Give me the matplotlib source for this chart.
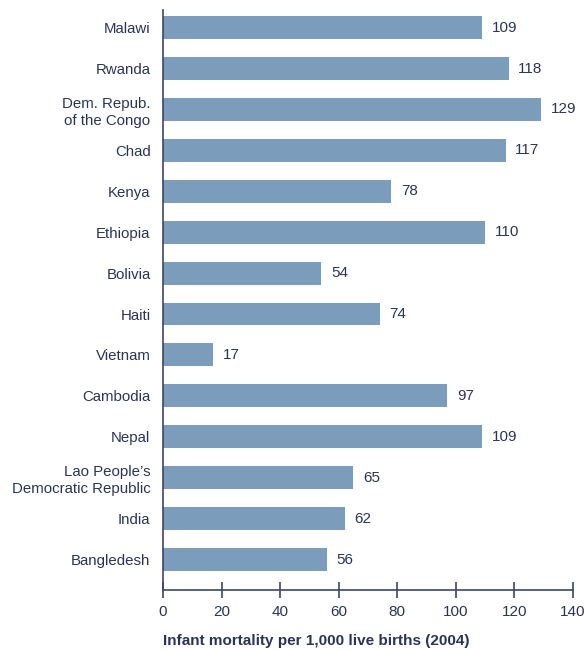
import matplotlib.pyplot as plt
import numpy as np

plt.rcParams['font.family'] = ['Liberation Sans', 'DejaVu Sans']

countries = ['Malawi', 'Rwanda', 'Dem. Repub.\nof the Congo', 'Chad', 'Kenya',
             'Ethiopia', 'Bolivia', 'Haiti', 'Vietnam', 'Cambodia', 'Nepal',
             "Lao People\u2019s\nDemocratic Republic", 'India', 'Bangledesh']
mortality = [109, 118, 129, 117, 78, 110, 54, 74, 17, 97, 109, 65, 62, 56]
xticks = [0, 20, 40, 60, 80, 100, 120, 140]

bar_color = '#7b9cbb'
text_color = '#2b3457'
axis_color = '#3b4768'

fig = plt.figure(figsize=(5.87, 6.5), dpi=100)
ax = fig.add_axes([163 / 587, 60 / 650, 410 / 587, 580 / 650])

y = np.arange(len(countries))
ax.barh(y, mortality, height=0.56, color=bar_color)

# value labels just past the bar ends
for yi, v in zip(y, mortality):
    ax.annotate(str(v), (v, yi), xytext=(7, 0), textcoords='offset points',
                va='center', ha='left', fontsize=11, color=text_color)

ax.set_ylim(13.745, -0.43)
ax.set_xlim(0, 140)
ax.set_yticks(y)
ax.set_yticklabels(countries, fontsize=10.8, color=text_color, linespacing=1.25)
ax.set_xticks(xticks)
ax.set_xticklabels([str(t) for t in xticks], fontsize=11, color=text_color)

ax.tick_params(axis='y', length=0, pad=9)
ax.tick_params(axis='x', direction='inout', length=11, width=1.2,
               color=axis_color, pad=5)

for s in ['top', 'right']:
    ax.spines[s].set_visible(False)
for s in ['left', 'bottom']:
    ax.spines[s].set_color(axis_color)
    ax.spines[s].set_linewidth(1.2)

ax.set_xlabel('Infant mortality per 1,000 live births (2004)', fontsize=11,
              fontweight='bold', color=text_color, labelpad=11, loc='left')

fig.savefig('out.png', dpi=100)
